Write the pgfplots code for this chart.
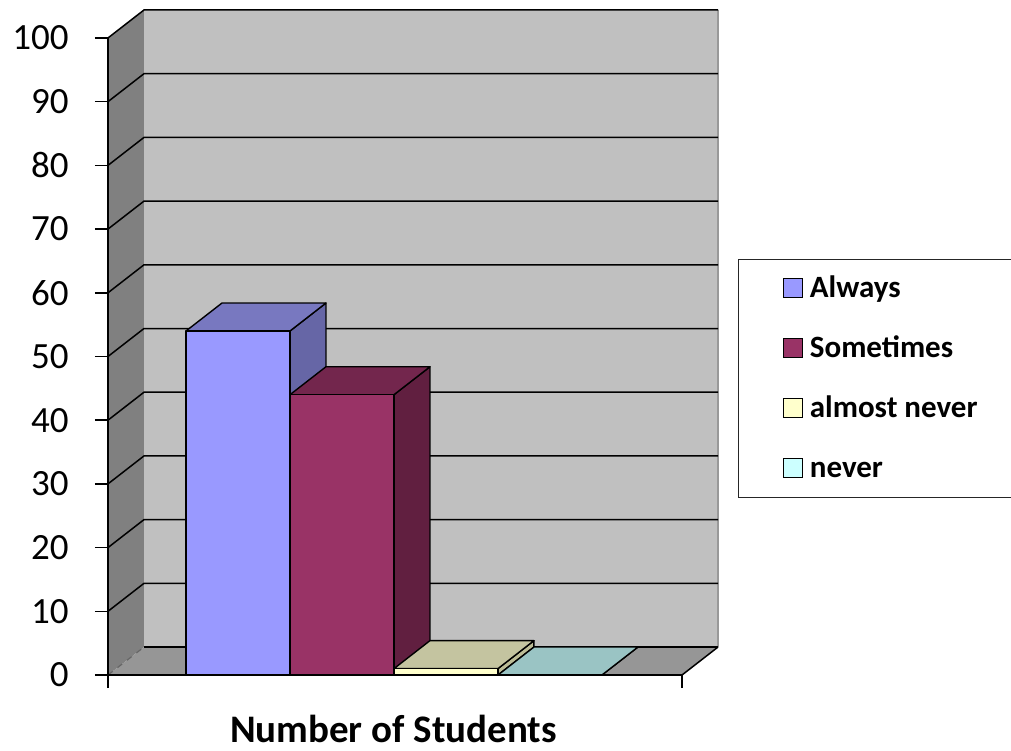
\documentclass[border=0pt]{standalone}
\usepackage{fontspec}
\setmainfont{Carlito}
\usepackage{pgfplots}
\pgfplotsset{compat=1.18}

% face colours of the columns (front, top, side)
\definecolor{alwaysFront}{RGB}{153,153,255}
\definecolor{alwaysTop}{RGB}{120,120,192}
\definecolor{alwaysSide}{RGB}{102,102,166}
\definecolor{someFront}{RGB}{153,51,102}
\definecolor{someTop}{RGB}{115,38,77}
\definecolor{someSide}{RGB}{97,31,64}
\definecolor{almostFront}{RGB}{255,255,204}
\definecolor{almostTop}{RGB}{196,196,160}
\definecolor{almostSide}{RGB}{188,188,150}
\definecolor{neverFront}{RGB}{204,255,255}
\definecolor{neverTop}{RGB}{154,196,196}
\definecolor{neverSide}{RGB}{150,190,190}
% walls and floor of the 3-D box
\definecolor{sidewall}{RGB}{128,128,128}
\definecolor{backwall}{RGB}{192,192,192}
\definecolor{floorgray}{RGB}{150,150,150}

% depth offset of the box, in data units
\def\depthx{0.346}
\def\depthy{4.39}

% one 3-D column: #1 position, #2 value, #3 front, #4 top, #5 side colour
\newcommand{\columnthreed}[5]{%
  \pgfmathsetmacro\xl{#1-0.5}%
  \pgfmathsetmacro\xr{#1+0.5}%
  \pgfmathsetmacro\xlb{#1-0.5+\depthx}%
  \pgfmathsetmacro\xrb{#1+0.5+\depthx}%
  \pgfmathsetmacro\ytb{#2+\depthy}%
  \addplot[forget plot, barface, fill=#5] coordinates {(\xr,0) (\xrb,\depthy) (\xrb,\ytb) (\xr,#2) (\xr,0)};
  \addplot[forget plot, barface, fill=#4] coordinates {(\xl,#2) (\xr,#2) (\xrb,\ytb) (\xlb,\ytb) (\xl,#2)};
  \addplot[forget plot, barface, fill=#3] coordinates {(\xl,0) (\xr,0) (\xr,#2) (\xl,#2) (\xl,0)};
}

\begin{document}
\begin{tikzpicture}
\useasboundingbox (-54pt,-37.5pt) rectangle (451.5pt,337.5pt);
\begin{axis}[
  at={(0,0)}, anchor=south west,
  scale only axis,
  width=305pt, height=332.5pt,
  xmin=-1.25, xmax=4.616,
  ymin=0, ymax=104.39,
  enlargelimits=false,
  clip=false,
  axis x line*=bottom, axis y line*=left,
  axis line style={draw=none},
  xtick={-1.25,4.27}, xticklabels={,},
  ytick={0,10,...,100},
  tick align=outside,
  major tick length=6.5pt,
  tick style={black, line width=0.75pt},
  /pgf/number format/assume math mode=true,
  tick label style={font=\fontsize{18.5}{20}\selectfont},
  yticklabel style={anchor=east, inner sep=0pt, xshift=-13pt},
  xlabel={Number of Students},
  xlabel style={at={(axis description cs:0.468,0)}, anchor=base, yshift=-33.5pt,
    inner sep=0pt, font=\fontsize{19.5}{22}\selectfont\bfseries},
  barface/.style={draw=black, line width=0.7pt, line join=round, mark=none},
  gridline/.style={draw=black, line width=0.75pt, mark=none},
  legend image code/.code={%
    \path (0pt,0pt);
    \draw[#1, draw=black, line width=0.7pt] (16pt,0pt) rectangle (25.5pt,9.5pt);},
  legend style={at={(axis description cs:1.0328,0.6256)}, anchor=north west,
    draw=black!85, line width=0.6pt, fill=white,
    inner xsep=6pt, inner ysep=7pt, row sep=15pt,
    font=\fontsize{15.5}{18}\selectfont\bfseries,
    cells={anchor=base west},
    nodes={inner sep=0pt, text height=12pt, text depth=3pt},
    /tikz/every odd column/.append style={column sep=3.5pt}},
]
% walls and floor
\addplot[forget plot, draw=none, fill=sidewall] coordinates {(-1.25,0) (-0.904,4.39) (-0.904,104.39) (-1.25,100)};
\addplot[forget plot, draw=none, fill=backwall] coordinates {(-0.904,4.39) (4.616,4.39) (4.616,104.39) (-0.904,104.39)};
\addplot[forget plot, draw=none, fill=floorgray] coordinates {(-1.25,0) (4.27,0) (4.616,4.39) (-0.904,4.39)};
\addplot[forget plot, draw=black!40, line width=1pt, mark=none] coordinates {(4.616,4.39) (4.616,104.39)};

% gridlines on the side and back walls
\pgfplotsinvokeforeach{10,20,30,40,50,60,70,80,90,100}{
  \pgfmathsetmacro\gy{#1+\depthy}
  \addplot[forget plot, gridline] coordinates {(-1.25,#1) (-0.904,\gy) (4.616,\gy)};
}
\addplot[forget plot, gridline] coordinates {(-0.904,4.39) (4.616,4.39)};
\addplot[forget plot, draw=black!60, dashed, line width=0.6pt, mark=none] coordinates {(-1.25,0) (-0.904,4.39)};
\addplot[forget plot, gridline] coordinates {(4.27,0) (4.616,4.39)};
\addplot[forget plot, gridline] coordinates {(-1.25,0) (-1.25,100)};

% the four columns
\columnthreed{0}{54}{alwaysFront}{alwaysTop}{alwaysSide}
\columnthreed{1}{44}{someFront}{someTop}{someSide}
\columnthreed{2}{1}{almostFront}{almostTop}{almostSide}
\columnthreed{3}{0}{neverFront}{neverTop}{neverSide}

% front edge of the floor
\addplot[forget plot, gridline] coordinates {(-1.25,0) (4.27,0)};

\addlegendimage{fill=alwaysFront}
\addlegendentry{\makebox[95pt][l]{Always}}
\addlegendimage{fill=someFront}
\addlegendentry{\makebox[95pt][l]{Sometimes}}
\addlegendimage{fill=almostFront}
\addlegendentry{\makebox[95pt][l]{almost never}}
\addlegendimage{fill=neverFront}
\addlegendentry{\makebox[95pt][l]{never}}
\end{axis}
\end{tikzpicture}
\end{document}
